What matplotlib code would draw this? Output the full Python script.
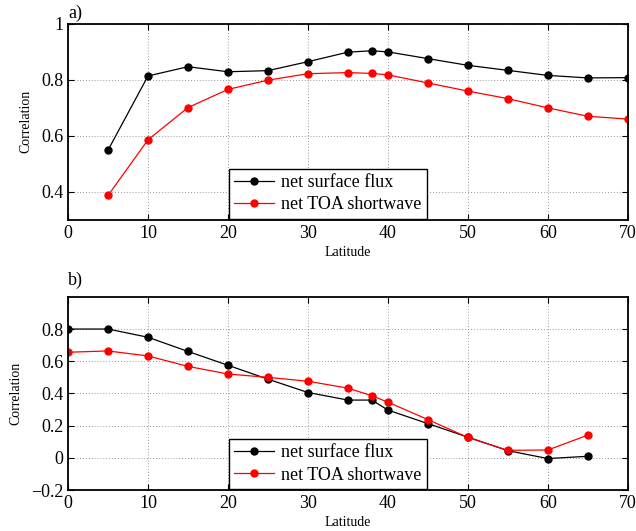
import matplotlib
matplotlib.use("Agg")
import matplotlib.pyplot as plt

plt.rcParams["font.family"] = ["Liberation Serif", "DejaVu Serif"]
plt.rcParams["mathtext.fontset"] = "stix"

# panel a
lat_a = [5, 10, 15, 20, 25, 30, 35, 38, 40, 45, 50, 55, 60, 65, 70]
surf_a = [0.549, 0.814, 0.847, 0.829, 0.833, 0.865, 0.899, 0.904, 0.900, 0.876, 0.852,
          0.834, 0.816, 0.807, 0.808]
toa_a = [0.387, 0.586, 0.701, 0.766, 0.799, 0.822, 0.826, 0.823, 0.818, 0.789, 0.760,
         0.733, 0.700, 0.670, 0.660]

# panel b
lat_b = [0, 5, 10, 15, 20, 25, 30, 35, 38, 40, 45, 50, 55, 60, 65]
surf_b = [0.80, 0.80, 0.749, 0.661, 0.575, 0.489, 0.406, 0.359, 0.359, 0.297, 0.213,
          0.129, 0.045, -0.004, 0.010]
toa_b = [0.656, 0.664, 0.633, 0.568, 0.521, 0.500, 0.476, 0.433, 0.386, 0.346, 0.238,
         0.127, 0.047, 0.049, 0.141]

labels = ["net surface flux", "net TOA shortwave"]

fig = plt.figure(figsize=(6.36, 5.31), dpi=100)
ax1 = fig.add_axes([0.107, 0.586, 0.880, 0.369])
ax2 = fig.add_axes([0.107, 0.077, 0.880, 0.364])


def style(ax, yticks, ylim, ylabels):
    ax.set_xlim(0, 70)
    ax.set_ylim(*ylim)
    ax.set_xticks(range(0, 71, 10))
    ax.set_yticks(yticks)
    ax.set_yticklabels(ylabels)
    ax.grid(True, color="#555555", linestyle=(0, (1, 2.5)), linewidth=0.6, alpha=0.8)
    ax.tick_params(direction="in", labelsize=13, length=4, width=0.8, top=True, right=True)
    for s in ax.spines.values():
        s.set_linewidth(1.3)
    ax.set_ylabel("Correlation", fontsize=10, labelpad=6)
    ax.set_xlabel("Latitude", fontsize=10, labelpad=3)


ax1.plot(lat_a, surf_a, "-o", color="black", lw=0.9, ms=5, label=labels[0])
ax1.plot(lat_a, toa_a, "-o", color="red", lw=0.9, ms=5, label=labels[1])
style(ax1, [0.4, 0.6, 0.8, 1.0], (0.3, 1.0), ["0.4", "0.6", "0.8", "1"])

ax2.plot(lat_b, surf_b, "-o", color="black", lw=0.9, ms=5, label=labels[0])
ax2.plot(lat_b, toa_b, "-o", color="red", lw=0.9, ms=5, label=labels[1])
style(ax2, [-0.2, 0, 0.2, 0.4, 0.6, 0.8], (-0.2, 1.0),
      ["\u22120.2", "0", "0.2", "0.4", "0.6", "0.8"])

for ax in (ax1, ax2):
    leg = ax.legend(loc="lower left", bbox_to_anchor=(0.287, 0.005), fontsize=13,
                    frameon=True, fancybox=False, edgecolor="black", framealpha=1,
                    borderpad=0.3, labelspacing=0.3, handlelength=2.2, handletextpad=0.4,
                    borderaxespad=0)
    leg.get_frame().set_linewidth(1.0)

fig.text(0.107, 0.975, "a)", fontsize=13, ha="left", va="center")
fig.text(0.107, 0.472, "b)", fontsize=13, ha="left", va="center")

fig.savefig("out.png", dpi=100)
